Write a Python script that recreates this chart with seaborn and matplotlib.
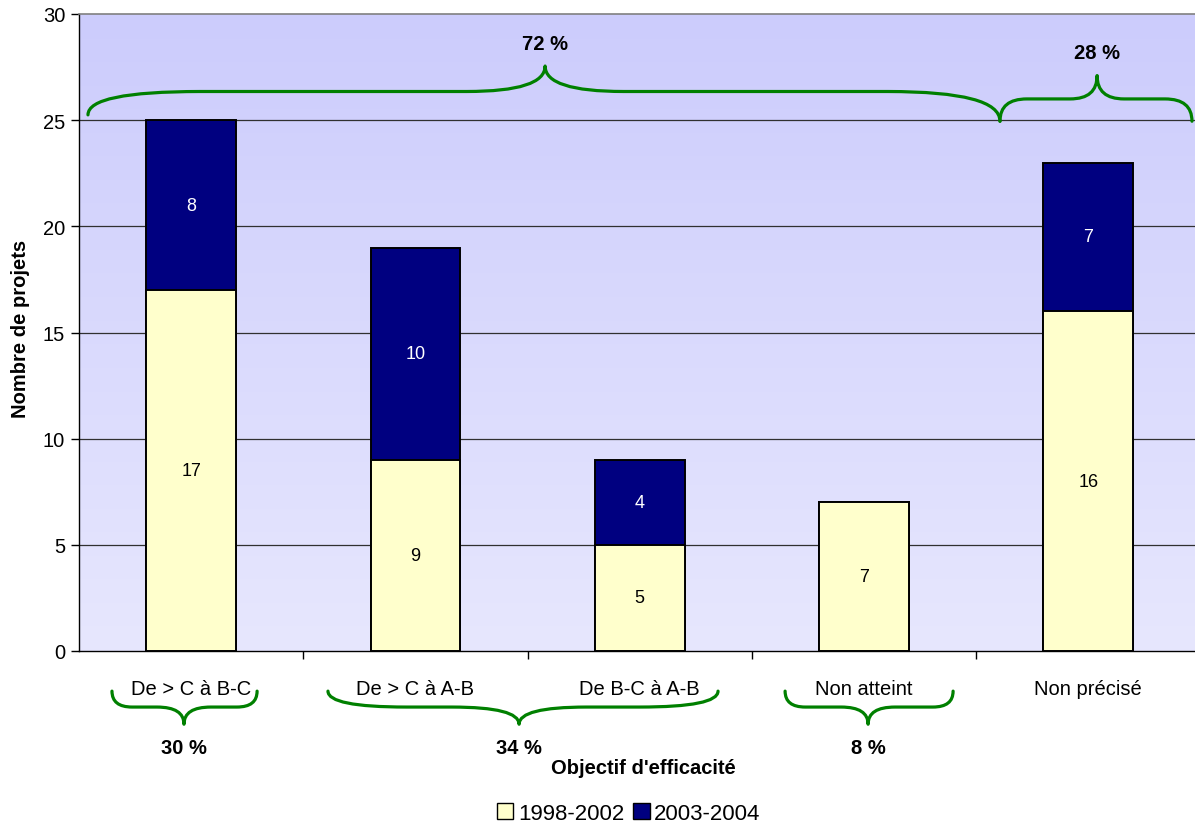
import numpy as np
import pandas as pd
import matplotlib
matplotlib.use("Agg")
import matplotlib.pyplot as plt
import seaborn as sns
from matplotlib.path import Path
from matplotlib.patches import PathPatch, Patch
from matplotlib.colors import LinearSegmentedColormap

categories = ["De > C à B-C", "De > C à A-B", "De B-C à A-B", "Non atteint", "Non précisé"]
series_names = ["1998-2002", "2003-2004"]
v_1998_2002 = [17, 9, 5, 7, 16]
v_2003_2004 = [8, 10, 4, 0, 7]
top_groups = ["72 %", "28 %"]
bottom_groups = ["30 %", "34 %", "8 %"]

sns.set_theme(style="white")
plt.rcParams["font.family"] = ["Liberation Sans", "DejaVu Sans"]
plt.rcParams["text.color"] = "black"
plt.rcParams["axes.labelcolor"] = "black"
plt.rcParams["xtick.color"] = "black"
plt.rcParams["ytick.color"] = "black"

YELLOW = "#FFFFCC"
NAVY = "#000080"
GREEN = "#008000"
FS = 14.5

df = pd.DataFrame({
    "cat": categories,
    "low": v_1998_2002,
    "high": v_2003_2004,
})
df["total"] = df["low"] + df["high"]

fig = plt.figure(figsize=(11.95, 8.29), dpi=100)
ax = fig.add_axes([79/1195, 1-652/829, 1121.5/1195, 637/829])

# gradient background
grad = np.linspace(0, 1, 256).reshape(-1, 1)
cmap = LinearSegmentedColormap.from_list("bg", ["#E7E7FE", "#CCCCFC"])
ax.imshow(grad, extent=[-0.5, 4.5, 0, 30], origin="lower", aspect="auto",
          cmap=cmap, zorder=0)

sns.barplot(data=df, x="cat", y="total", color=NAVY, width=0.4,
            edgecolor="black", linewidth=1.4, saturation=1, ax=ax, zorder=3)
sns.barplot(data=df, x="cat", y="low", color=YELLOW, width=0.4,
            edgecolor="black", linewidth=1.4, saturation=1, ax=ax, zorder=4)

ax.set_xlim(-0.5, 4.5)
ax.set_ylim(0, 30)
ax.set_yticks(range(0, 31, 5))
for yv in range(5, 30, 5):
    ax.axhline(yv, color="#303030", lw=0.9, zorder=1)

# value labels
for i, (lo, hi) in enumerate(zip(v_1998_2002, v_2003_2004)):
    if lo > 0:
        ax.text(i, lo / 2, str(lo), ha="center", va="center", fontsize=13,
                color="black", zorder=6)
    if hi > 0:
        ax.text(i, lo + hi / 2, str(hi), ha="center", va="center", fontsize=13,
                color="white", zorder=6)

# spines / ticks
ax.spines["right"].set_visible(False)
ax.spines["top"].set_color("#808080")
ax.spines["top"].set_linewidth(1.2)
ax.spines["left"].set_color("black")
ax.spines["bottom"].set_color("black")
ax.spines["left"].set_linewidth(1.0)
ax.spines["bottom"].set_linewidth(1.0)

ax.tick_params(axis="y", which="major", length=6, width=1, color="black",
               left=True, labelsize=FS, pad=4)
ax.set_xticks(range(5))
ax.set_xticklabels(categories)
ax.set_xticks(np.arange(0.5, 4.0, 1.0), minor=True)
ax.tick_params(axis="x", which="major", length=0, labelsize=FS, pad=20)
ax.tick_params(axis="x", which="minor", length=6, width=1, color="black",
               bottom=True)

ax.set_xlabel("Objectif d'efficacité", fontsize=FS, fontweight="bold")
ax.xaxis.set_label_coords(0.503, -0.168)
ax.set_ylabel("Nombre de projets", fontsize=FS, fontweight="bold")
ax.yaxis.set_label_coords(-0.044, 0.507)


def brace(x0, x1, xm, ye0, ye1, yf, yp, r0, rt, transform):
    verts = [
        (x0, ye0), (x0, yf), (x0 + r0, yf),
        (xm - rt, yf),
        (xm, yf), (xm, yp),
        (xm, yf), (xm + rt, yf),
        (x1 - r0, yf),
        (x1, yf), (x1, ye1),
    ]
    codes = [Path.MOVETO, Path.CURVE3, Path.CURVE3,
             Path.LINETO,
             Path.CURVE3, Path.CURVE3,
             Path.CURVE3, Path.CURVE3,
             Path.LINETO,
             Path.CURVE3, Path.CURVE3]
    p = PathPatch(Path(verts, codes), facecolor="none", edgecolor=GREEN,
                  lw=2.3, transform=transform, clip_on=False, zorder=7,
                  capstyle="round", joinstyle="round")
    ax.add_patch(p)


# top braces (data coordinates)
brace(-0.46, 3.606, 1.578, 25.25, 24.95, 26.35, 27.55, 0.5, 0.35, ax.transData)
ax.text(1.578, 28.6, top_groups[0], ha="center", va="center", fontsize=FS,
        fontweight="bold", zorder=7)
brace(3.606, 4.462, 4.039, 24.95, 24.95, 26.0, 27.1, 0.12, 0.12, ax.transData)
ax.text(4.039, 28.2, top_groups[1], ha="center", va="center", fontsize=FS,
        fontweight="bold", zorder=7)

# bottom braces (x data, y axes)
bt = ax.get_xaxis_transform()
ye, yf, yp, yt = -0.063, -0.088, -0.115, -0.151
brace(-0.353, 0.294, -0.032, ye, ye, yf, yp, 0.09, 0.12, bt)
ax.text(-0.032, yt, bottom_groups[0], ha="center", va="center", fontsize=FS,
        fontweight="bold", transform=bt)
brace(0.61, 2.349, 1.462, ye, ye, yf, yp, 0.35, 0.3, bt)
ax.text(1.462, yt, bottom_groups[1], ha="center", va="center", fontsize=FS,
        fontweight="bold", transform=bt)
brace(2.648, 3.397, 3.018, ye, ye, yf, yp, 0.09, 0.12, bt)
ax.text(3.018, yt, bottom_groups[2], ha="center", va="center", fontsize=FS,
        fontweight="bold", transform=bt)

handles = [Patch(facecolor=YELLOW, edgecolor="black", lw=1.0),
           Patch(facecolor=NAVY, edgecolor="black", lw=1.0)]
fig.legend(handles, series_names, loc="lower center", ncol=2, frameon=False,
           fontsize=16, handlelength=0.75, handleheight=0.75, handletextpad=0.2,
           columnspacing=0.4, bbox_to_anchor=(0.526, -0.019))

fig.savefig("out.png", dpi=100, facecolor="white")
